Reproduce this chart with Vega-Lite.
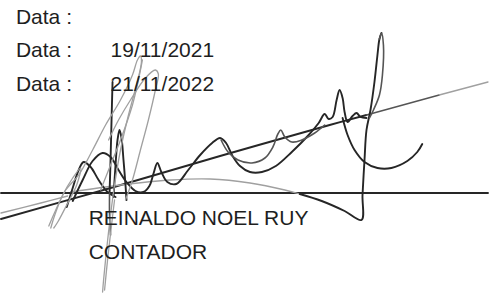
{
  "$schema": "https://vega.github.io/schema/vega-lite/v6.json",
  "width": 489,
  "height": 294,
  "autosize": {"type": "fit", "contains": "padding"},
  "padding": 0,
  "background": "white",
  "config": {"view": {"stroke": null}},
  "datasets": {
    "texts": [
      {"label": "Data :", "x": 15, "y": 24},
      {"label": "Data :", "x": 15, "y": 57},
      {"label": "Data :", "x": 15, "y": 91},
      {"label": "19/11/2021", "x": 110, "y": 57},
      {"label": "21/11/2022", "x": 110, "y": 91},
      {"label": "REINALDO NOEL RUY", "x": 88, "y": 225},
      {"label": "CONTADOR", "x": 88, "y": 259}
    ],
    "strokes": [
      {"s": "rule", "i": 0, "x": 0, "y": 193, "t": "dark"},
      {"s": "rule", "i": 1, "x": 489, "y": 193, "t": "dark"},

      {"s": "diag", "i": 0, "x": 0, "y": 219, "t": "dark"},
      {"s": "diag", "i": 1, "x": 110, "y": 188, "t": "dark"},
      {"s": "diag", "i": 2, "x": 220, "y": 156, "t": "dark"},
      {"s": "diag", "i": 3, "x": 330, "y": 125, "t": "dark"},
      {"s": "diag", "i": 4, "x": 367, "y": 115, "t": "dark"},
      {"s": "diag2", "i": 0, "x": 367, "y": 115, "t": "mid"},
      {"s": "diag2", "i": 1, "x": 440, "y": 95, "t": "mid"},
      {"s": "diag3", "i": 0, "x": 440, "y": 95, "t": "light"},
      {"s": "diag3", "i": 1, "x": 489, "y": 82, "t": "light"},

      {"s": "thin", "i": 0, "x": 0, "y": 213, "t": "light"},
      {"s": "thin", "i": 1, "x": 40, "y": 203, "t": "light"},
      {"s": "thin", "i": 2, "x": 67, "y": 196, "t": "light"},

      {"s": "arc", "i": 0, "x": 70, "y": 192, "t": "light"},
      {"s": "arc", "i": 1, "x": 120, "y": 185, "t": "light"},
      {"s": "arc", "i": 2, "x": 170, "y": 180, "t": "light"},
      {"s": "arc", "i": 3, "x": 210, "y": 179, "t": "light"},
      {"s": "arc", "i": 4, "x": 250, "y": 183, "t": "light"},
      {"s": "arc", "i": 5, "x": 285, "y": 190, "t": "light"},
      {"s": "arc", "i": 6, "x": 300, "y": 194, "t": "light"},

      {"s": "loop", "i": 0, "x": 300, "y": 194, "t": "dark"},
      {"s": "loop", "i": 1, "x": 322, "y": 201, "t": "dark"},
      {"s": "loop", "i": 2, "x": 345, "y": 211, "t": "dark"},
      {"s": "loop", "i": 3, "x": 362, "y": 220, "t": "dark"},
      {"s": "loop", "i": 4, "x": 363, "y": 195, "t": "dark"},
      {"s": "loop", "i": 5, "x": 365, "y": 160, "t": "dark"},
      {"s": "loop", "i": 6, "x": 367, "y": 130, "t": "dark"},
      {"s": "loop", "i": 7, "x": 371, "y": 110, "t": "dark"},
      {"s": "loop", "i": 8, "x": 375, "y": 82, "t": "dark"},
      {"s": "loop", "i": 9, "x": 378, "y": 55, "t": "dark"},
      {"s": "loop", "i": 10, "x": 380, "y": 39, "t": "dark"},
      {"s": "loop", "i": 11, "x": 382, "y": 33, "t": "dark"},
      {"s": "loopR", "i": 0, "x": 380, "y": 39, "t": "mid"},
      {"s": "loopR", "i": 1, "x": 382, "y": 33, "t": "mid"},
      {"s": "loopR", "i": 2, "x": 384, "y": 45, "t": "mid"},
      {"s": "loopR", "i": 3, "x": 383, "y": 75, "t": "mid"},
      {"s": "loopR", "i": 4, "x": 380, "y": 95, "t": "mid"},
      {"s": "loopR", "i": 5, "x": 374, "y": 110, "t": "mid"},
      {"s": "loopR", "i": 6, "x": 370, "y": 118, "t": "mid"},

      {"s": "bowl", "i": 0, "x": 343, "y": 118, "t": "dark"},
      {"s": "bowl", "i": 1, "x": 348, "y": 135, "t": "dark"},
      {"s": "bowl", "i": 2, "x": 355, "y": 150, "t": "dark"},
      {"s": "bowl", "i": 3, "x": 365, "y": 162, "t": "dark"},
      {"s": "bowl", "i": 4, "x": 378, "y": 168, "t": "dark"},
      {"s": "bowl", "i": 5, "x": 392, "y": 168, "t": "dark"},
      {"s": "bowl", "i": 6, "x": 408, "y": 161, "t": "dark"},
      {"s": "bowl", "i": 7, "x": 418, "y": 152, "t": "dark"},
      {"s": "bowl", "i": 8, "x": 423, "y": 144, "t": "dark"},

      {"s": "bell1", "i": 0, "x": 66, "y": 207, "t": "dark"},
      {"s": "bell1", "i": 1, "x": 72, "y": 188, "t": "dark"},
      {"s": "bell1", "i": 2, "x": 78, "y": 170, "t": "dark"},
      {"s": "bell1", "i": 3, "x": 83, "y": 162, "t": "dark"},
      {"s": "bell1", "i": 4, "x": 90, "y": 167, "t": "dark"},
      {"s": "bell1", "i": 5, "x": 98, "y": 180, "t": "dark"},
      {"s": "bell1", "i": 6, "x": 107, "y": 192, "t": "dark"},
      {"s": "bell1", "i": 7, "x": 115, "y": 197, "t": "dark"},

      {"s": "wave", "i": 0, "x": 72, "y": 201, "t": "dark"},
      {"s": "wave", "i": 1, "x": 82, "y": 180, "t": "dark"},
      {"s": "wave", "i": 2, "x": 92, "y": 161, "t": "dark"},
      {"s": "wave", "i": 3, "x": 102, "y": 153, "t": "dark"},
      {"s": "wave", "i": 4, "x": 110, "y": 157, "t": "dark"},
      {"s": "wave", "i": 5, "x": 118, "y": 170, "t": "dark"},
      {"s": "wave", "i": 6, "x": 126, "y": 182, "t": "dark"},
      {"s": "wave", "i": 7, "x": 135, "y": 191, "t": "dark"},
      {"s": "wave", "i": 8, "x": 143, "y": 192, "t": "dark"},
      {"s": "wave", "i": 9, "x": 149, "y": 186, "t": "dark"},
      {"s": "wave", "i": 10, "x": 153, "y": 174, "t": "dark"},
      {"s": "wave", "i": 11, "x": 157, "y": 163, "t": "dark"},
      {"s": "wave", "i": 12, "x": 161, "y": 172, "t": "dark"},
      {"s": "wave", "i": 13, "x": 167, "y": 182, "t": "dark"},
      {"s": "wave", "i": 14, "x": 176, "y": 184, "t": "dark"},
      {"s": "wave", "i": 15, "x": 188, "y": 170, "t": "dark"},
      {"s": "wave", "i": 16, "x": 200, "y": 155, "t": "dark"},
      {"s": "wave", "i": 17, "x": 212, "y": 143, "t": "dark"},
      {"s": "wave", "i": 18, "x": 220, "y": 138, "t": "dark"},
      {"s": "wave", "i": 19, "x": 226, "y": 143, "t": "dark"},
      {"s": "wave", "i": 20, "x": 232, "y": 155, "t": "dark"},
      {"s": "wave", "i": 21, "x": 240, "y": 166, "t": "dark"},
      {"s": "wave", "i": 22, "x": 250, "y": 172, "t": "dark"},
      {"s": "wave", "i": 23, "x": 262, "y": 172, "t": "dark"},
      {"s": "wave", "i": 24, "x": 276, "y": 166, "t": "dark"},
      {"s": "wave", "i": 25, "x": 292, "y": 152, "t": "dark"},
      {"s": "wave", "i": 26, "x": 308, "y": 136, "t": "dark"},
      {"s": "wave", "i": 27, "x": 319, "y": 123, "t": "dark"},
      {"s": "wave", "i": 28, "x": 325, "y": 114, "t": "dark"},
      {"s": "wave", "i": 29, "x": 329, "y": 119, "t": "dark"},
      {"s": "wave", "i": 30, "x": 333, "y": 117, "t": "dark"},
      {"s": "wave", "i": 31, "x": 337, "y": 100, "t": "dark"},
      {"s": "wave", "i": 32, "x": 340, "y": 90, "t": "dark"},
      {"s": "wave", "i": 33, "x": 343, "y": 98, "t": "dark"},
      {"s": "wave", "i": 34, "x": 345, "y": 112, "t": "dark"},
      {"s": "wave", "i": 35, "x": 348, "y": 122, "t": "dark"},
      {"s": "wave", "i": 36, "x": 353, "y": 116, "t": "dark"},
      {"s": "wave", "i": 37, "x": 357, "y": 113, "t": "dark"},
      {"s": "wave", "i": 38, "x": 361, "y": 117, "t": "dark"},
      {"s": "wave", "i": 39, "x": 367, "y": 118, "t": "dark"},

      {"s": "wave2", "i": 0, "x": 221, "y": 140, "t": "mid"},
      {"s": "wave2", "i": 1, "x": 228, "y": 152, "t": "mid"},
      {"s": "wave2", "i": 2, "x": 238, "y": 160, "t": "mid"},
      {"s": "wave2", "i": 3, "x": 252, "y": 163, "t": "mid"},
      {"s": "wave2", "i": 4, "x": 265, "y": 158, "t": "mid"},
      {"s": "wave2", "i": 5, "x": 273, "y": 147, "t": "mid"},
      {"s": "wave2", "i": 6, "x": 278, "y": 134, "t": "mid"},
      {"s": "wave2", "i": 7, "x": 281, "y": 130, "t": "mid"},
      {"s": "wave2", "i": 8, "x": 285, "y": 137, "t": "mid"},
      {"s": "wave2", "i": 9, "x": 292, "y": 142, "t": "mid"},
      {"s": "wave2", "i": 10, "x": 302, "y": 140, "t": "mid"},
      {"s": "wave2", "i": 11, "x": 315, "y": 133, "t": "mid"},
      {"s": "wave2", "i": 12, "x": 325, "y": 125, "t": "mid"},

      {"s": "spike", "i": 0, "x": 113, "y": 197, "t": "dark"},
      {"s": "spike", "i": 1, "x": 115, "y": 165, "t": "dark"},
      {"s": "spike", "i": 2, "x": 117, "y": 140, "t": "dark"},
      {"s": "spike", "i": 3, "x": 119, "y": 130, "t": "dark"},
      {"s": "spike", "i": 4, "x": 121, "y": 138, "t": "dark"},
      {"s": "spike", "i": 5, "x": 123, "y": 160, "t": "dark"},
      {"s": "spike", "i": 6, "x": 125, "y": 185, "t": "dark"},
      {"s": "spike", "i": 7, "x": 126, "y": 200, "t": "dark"},

      {"s": "vert", "i": 0, "x": 112, "y": 82, "t": "dark"},
      {"s": "vert", "i": 1, "x": 111, "y": 120, "t": "dark"},
      {"s": "vert", "i": 2, "x": 110, "y": 160, "t": "dark"},
      {"s": "vert", "i": 3, "x": 109, "y": 193, "t": "dark"},
      {"s": "vert2", "i": 0, "x": 109, "y": 193, "t": "mid"},
      {"s": "vert2", "i": 1, "x": 109, "y": 215, "t": "mid"},
      {"s": "vert2", "i": 2, "x": 110, "y": 235, "t": "mid"},

      {"s": "g1", "i": 0, "x": 48, "y": 226, "t": "light"},
      {"s": "g1", "i": 1, "x": 55, "y": 210, "t": "light"},
      {"s": "g1", "i": 2, "x": 65, "y": 190, "t": "light"},
      {"s": "g1", "i": 3, "x": 78, "y": 175, "t": "light"},
      {"s": "g1", "i": 4, "x": 92, "y": 150, "t": "light"},
      {"s": "g1", "i": 5, "x": 105, "y": 125, "t": "light"},
      {"s": "g1", "i": 6, "x": 120, "y": 100, "t": "light"},
      {"s": "g1", "i": 7, "x": 132, "y": 75, "t": "light"},
      {"s": "g1", "i": 8, "x": 137, "y": 60, "t": "light"},
      {"s": "g1", "i": 9, "x": 140, "y": 56, "t": "light"},
      {"s": "g1", "i": 10, "x": 141, "y": 62, "t": "light"},
      {"s": "g1", "i": 11, "x": 136, "y": 85, "t": "light"},
      {"s": "g1", "i": 12, "x": 128, "y": 115, "t": "light"},
      {"s": "g1", "i": 13, "x": 120, "y": 150, "t": "light"},
      {"s": "g1", "i": 14, "x": 114, "y": 185, "t": "light"},
      {"s": "g1", "i": 15, "x": 110, "y": 215, "t": "light"},
      {"s": "g1", "i": 16, "x": 106, "y": 250, "t": "light"},
      {"s": "g1", "i": 17, "x": 103, "y": 280, "t": "light"},
      {"s": "g1", "i": 18, "x": 102, "y": 292, "t": "light"},

      {"s": "g2", "i": 0, "x": 108, "y": 140, "t": "light"},
      {"s": "g2", "i": 1, "x": 118, "y": 120, "t": "light"},
      {"s": "g2", "i": 2, "x": 130, "y": 100, "t": "light"},
      {"s": "g2", "i": 3, "x": 145, "y": 78, "t": "light"},
      {"s": "g2", "i": 4, "x": 155, "y": 70, "t": "light"},
      {"s": "g2", "i": 5, "x": 158, "y": 74, "t": "light"},
      {"s": "g2", "i": 6, "x": 155, "y": 90, "t": "light"},
      {"s": "g2", "i": 7, "x": 148, "y": 120, "t": "light"},
      {"s": "g2", "i": 8, "x": 140, "y": 150, "t": "light"},
      {"s": "g2", "i": 9, "x": 132, "y": 180, "t": "light"},
      {"s": "g2", "i": 10, "x": 125, "y": 200, "t": "light"},

      {"s": "g3", "i": 0, "x": 100, "y": 190, "t": "light"},
      {"s": "g3", "i": 1, "x": 110, "y": 165, "t": "light"},
      {"s": "g3", "i": 2, "x": 120, "y": 140, "t": "light"},
      {"s": "g3", "i": 3, "x": 132, "y": 105, "t": "light"},
      {"s": "g3", "i": 4, "x": 138, "y": 80, "t": "light"},
      {"s": "g3", "i": 5, "x": 142, "y": 60, "t": "light"},

      {"s": "g4", "i": 0, "x": 50, "y": 228, "t": "light"},
      {"s": "g4", "i": 1, "x": 54, "y": 215, "t": "light"},
      {"s": "g4", "i": 2, "x": 62, "y": 195, "t": "light"},
      {"s": "g4", "i": 3, "x": 72, "y": 178, "t": "light"},
      {"s": "g4", "i": 4, "x": 80, "y": 168, "t": "light"},
      {"s": "g4", "i": 5, "x": 76, "y": 185, "t": "light"},
      {"s": "g4", "i": 6, "x": 66, "y": 205, "t": "light"},
      {"s": "g4", "i": 7, "x": 57, "y": 222, "t": "light"},
      {"s": "g4", "i": 8, "x": 53, "y": 228, "t": "light"},

      {"s": "g5", "i": 0, "x": 104, "y": 290, "t": "light"},
      {"s": "g5", "i": 1, "x": 107, "y": 260, "t": "light"},
      {"s": "g5", "i": 2, "x": 111, "y": 225, "t": "light"},
      {"s": "g5", "i": 3, "x": 114, "y": 200, "t": "light"}
    ]
  },
  "layer": [
    {
      "data": {"name": "strokes"},
      "mark": {"type": "line", "interpolate": "catmull-rom", "strokeCap": "round", "strokeJoin": "round"},
      "encoding": {
        "x": {"field": "x", "type": "quantitative", "scale": {"domain": [0, 489], "nice": false, "zero": false}, "axis": null},
        "y": {"field": "y", "type": "quantitative", "scale": {"domain": [0, 294], "nice": false, "zero": false, "reverse": true}, "axis": null},
        "detail": {"field": "s", "type": "nominal"},
        "order": {"field": "i", "type": "quantitative"},
        "color": {"field": "t", "type": "nominal", "scale": {"domain": ["dark", "mid", "light"], "range": ["#262626", "#555555", "#a0a0a0"]}, "legend": null},
        "strokeWidth": {"field": "t", "type": "nominal", "scale": {"domain": ["dark", "mid", "light"], "range": [1.9, 1.3, 1.0]}, "legend": null}
      }
    },
    {
      "data": {"name": "texts"},
      "mark": {"type": "text", "align": "left", "baseline": "alphabetic", "font": "Liberation Sans", "fontSize": 21, "color": "#1e1e1e"},
      "encoding": {
        "x": {"field": "x", "type": "quantitative", "scale": {"domain": [0, 489], "nice": false, "zero": false}, "axis": null},
        "y": {"field": "y", "type": "quantitative", "scale": {"domain": [0, 294], "nice": false, "zero": false, "reverse": true}, "axis": null},
        "text": {"field": "label", "type": "nominal"}
      }
    }
  ]
}
